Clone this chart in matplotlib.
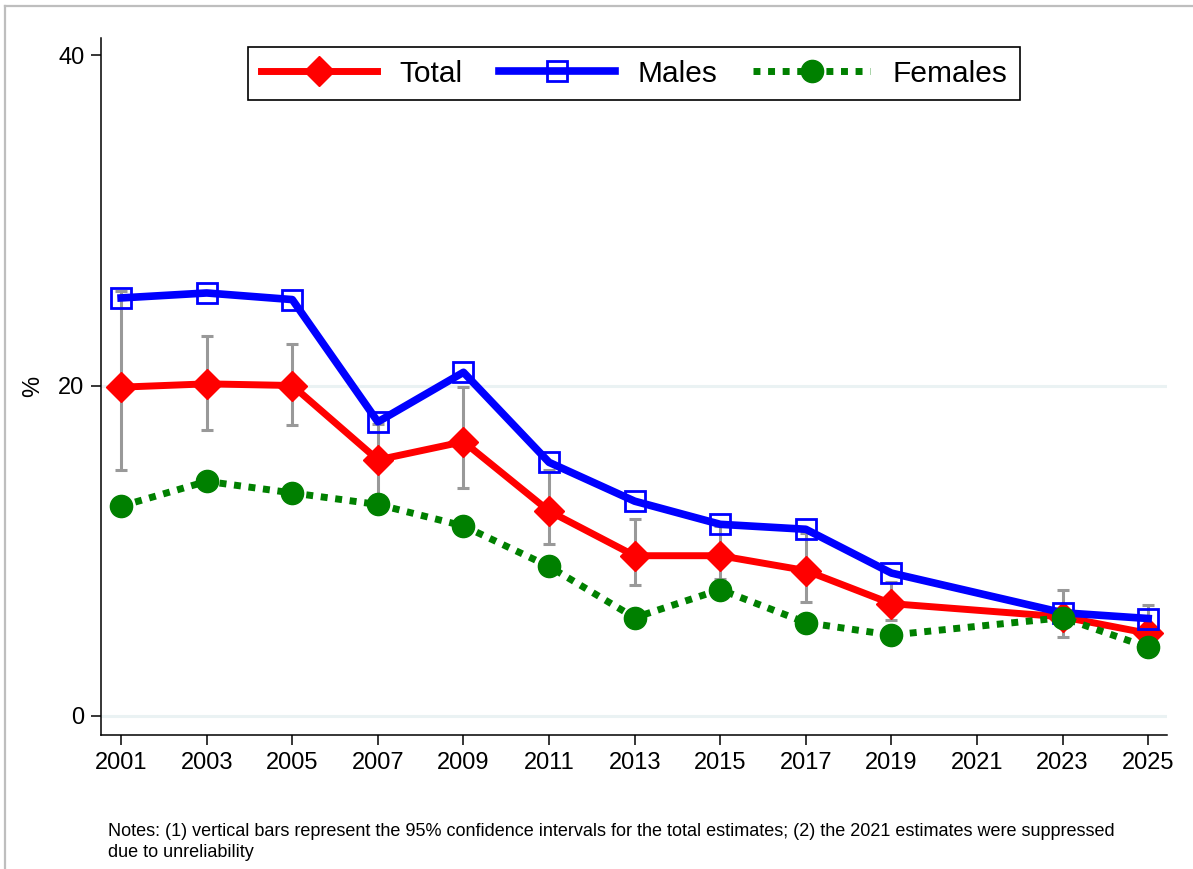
import matplotlib
matplotlib.use("Agg")
import matplotlib.pyplot as plt
from matplotlib.lines import Line2D

# Survey years (2021 suppressed)
years = [2001, 2003, 2005, 2007, 2009, 2011, 2013, 2015, 2017, 2019, 2023, 2025]
tick_years = list(range(2001, 2026, 2))

total = [19.9, 20.1, 20.0, 15.5, 16.6, 12.4, 9.7, 9.7, 8.8, 6.8, 6.0, 5.0]
total_lo = [14.9, 17.3, 17.6, 13.4, 13.8, 10.4, 7.9, 8.3, 6.9, 5.8, 4.8, 4.0]
total_hi = [25.7, 23.0, 22.5, 17.7, 19.9, 14.9, 11.9, 11.5, 11.05, 8.1, 7.6, 6.7]
males = [25.3, 25.6, 25.2, 17.8, 20.8, 15.35, 13.0, 11.6, 11.3, 8.65, 6.25, 5.9]
females = [12.7, 14.2, 13.5, 12.8, 11.5, 9.05, 5.95, 7.65, 5.65, 4.9, 5.95, 4.15]

y_ticks = [0, 20, 40]
grid_values = [0, 20]

NOTE = ("Notes: (1) vertical bars represent the 95% confidence intervals for the total "
        "estimates; (2) the 2021 estimates were suppressed\ndue to unreliability")

W, H = 1193, 869
fig = plt.figure(figsize=(W / 100, H / 100), dpi=100)
plt.rcParams["font.family"] = ["Liberation Sans", "DejaVu Sans"]

ax = fig.add_axes([101 / W, (H - 735) / H, (1167 - 101) / W, (735 - 38) / H])

for g in grid_values:
    ax.axhline(g, color="#EAF2F3", lw=2.2, zorder=0)

err_lo = [t - lo for t, lo in zip(total, total_lo)]
err_hi = [hi - t for t, hi in zip(total, total_hi)]
ax.errorbar(years, total, yerr=[err_lo, err_hi], fmt="none", ecolor="#999999",
            elinewidth=2.2, capsize=4.5, capthick=2.2, zorder=1)

ax.plot(years, total, color="red", lw=5, marker="D", ms=15, zorder=2)
ax.plot(years, males, color="blue", lw=5.5, marker="s", ms=14,
        mfc="none", mec="blue", mew=2, zorder=3)
ax.plot(years, females, color="green", lw=5, ls=(0, (1, 1.1)),
        dash_capstyle="butt", marker="o", ms=16, zorder=4)

ax.set_xlim(2000.53, 2025.44)
ax.set_ylim(-1.15, 41.03)
ax.set_xticks(tick_years)
ax.set_yticks(y_ticks)
ax.tick_params(direction="out", length=7, width=1.1, labelsize=17, pad=5)
for s in ["top", "right"]:
    ax.spines[s].set_visible(False)
for s in ["left", "bottom"]:
    ax.spines[s].set_linewidth(1.1)
ax.set_ylabel("%", fontsize=17, labelpad=10)

handles = [
    Line2D([], [], color="red", lw=5, marker="D", ms=15),
    Line2D([], [], color="blue", lw=5.5, marker="s", ms=14, mfc="none", mew=2),
    Line2D([], [], color="green", lw=5, ls=(0, (1, 1.1)), dash_capstyle="butt",
           marker="o", ms=16),
]
leg = ax.legend(handles, ["Total", "Males", "Females"], loc="upper center", ncol=3,
                fancybox=False, edgecolor="black", framealpha=1,
                prop={"size": 21.5},
                handlelength=3.9, handletextpad=0.75, columnspacing=1.2,
                borderaxespad=0.3, borderpad=0.42)
leg.get_frame().set_linewidth(1.2)

fig.text(108 / W, 1 - 823 / H, NOTE, fontsize=13.0, va="top", ha="left",
         family=["Liberation Sans Narrow", "Liberation Sans"], linespacing=1.3)

# light grey outer frame (top and left edges)
fig.add_artist(Line2D([5.5 / W, 5.5 / W], [0, 1 - 5.5 / H], color="#BEBEBE",
                      lw=1.6, transform=fig.transFigure))
fig.add_artist(Line2D([5.5 / W, 1], [1 - 5.5 / H, 1 - 5.5 / H], color="#BEBEBE",
                      lw=1.6, transform=fig.transFigure))

fig.savefig("out.png", dpi=100)
